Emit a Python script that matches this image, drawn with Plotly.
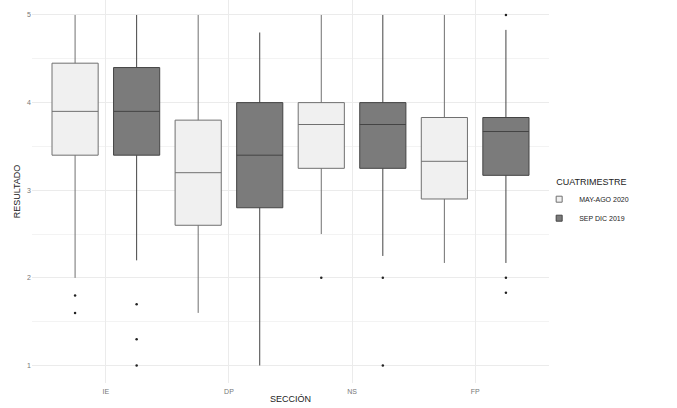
import plotly.graph_objects as go

secciones = ["IE", "DP", "NS", "FP"]

may_lo = [2.0, 1.6, 2.5, 2.17]
may_q1 = [3.4, 2.6, 3.25, 2.9]
may_med = [3.9, 3.2, 3.75, 3.33]
may_q3 = [4.45, 3.8, 4.0, 3.83]
may_hi = [5.0, 5.0, 5.0, 5.0]
may_out_x = ["IE", "IE", "NS"]
may_out_y = [1.8, 1.6, 2.0]

sep_lo = [2.2, 1.0, 2.25, 2.17]
sep_q1 = [3.4, 2.8, 3.25, 3.17]
sep_med = [3.9, 3.4, 3.75, 3.67]
sep_q3 = [4.4, 4.0, 4.0, 3.83]
sep_hi = [5.0, 4.8, 5.0, 4.83]
sep_out_x = ["IE", "IE", "IE", "NS", "NS", "FP", "FP", "FP"]
sep_out_y = [1.7, 1.3, 1.0, 2.0, 1.0, 5.0, 2.0, 1.83]

FONT = "Liberation Sans, Arial, sans-serif"

fig = go.Figure()
fig.add_trace(go.Box(
    name="MAY-AGO 2020", x=secciones, q1=may_q1, median=may_med, q3=may_q3,
    lowerfence=may_lo, upperfence=may_hi, boxpoints=False,
    fillcolor="#F0F0F0", line=dict(color="#707070", width=1), whiskerwidth=0,
    offsetgroup="a", showlegend=False))
fig.add_trace(go.Box(
    name="SEP DIC 2019", x=secciones, q1=sep_q1, median=sep_med, q3=sep_q3,
    lowerfence=sep_lo, upperfence=sep_hi, boxpoints=False,
    fillcolor="#7B7B7B", line=dict(color="#444444", width=1), whiskerwidth=0,
    offsetgroup="b", showlegend=False))
fig.add_trace(go.Scatter(
    x=may_out_x, y=may_out_y, mode="markers", offsetgroup="a",
    marker=dict(color="#222222", size=2.5), showlegend=False, hoverinfo="y"))
fig.add_trace(go.Scatter(
    x=sep_out_x, y=sep_out_y, mode="markers", offsetgroup="b",
    marker=dict(color="#222222", size=2.5), showlegend=False, hoverinfo="y"))
# legend entries (small box icons like the reference)
fig.add_trace(go.Scatter(
    x=[None], y=[None], mode="markers", name="MAY-AGO 2020",
    marker=dict(symbol="square", size=6, color="#F0F0F0", line=dict(color="#707070", width=1))))
fig.add_trace(go.Scatter(
    x=[None], y=[None], mode="markers", name="SEP DIC 2019",
    marker=dict(symbol="square", size=6, color="#7B7B7B", line=dict(color="#444444", width=1))))

fig.update_layout(
    width=677, height=408,
    margin=dict(l=32, r=128, t=0, b=25),
    paper_bgcolor="white", plot_bgcolor="white",
    boxmode="group", boxgap=0, boxgroupgap=0.25,
    scattermode="group", scattergap=0,
    font=dict(family=FONT, color="#333333"),
    legend=dict(
        title=dict(text="CUATRIMESTRE", font=dict(size=9, color="#222222")),
        font=dict(size=7, color="#222222"),
        x=1.01, xanchor="left", y=0.47, yanchor="middle",
        indentation=-15, tracegroupgap=0, bgcolor="rgba(0,0,0,0)"),
    xaxis=dict(
        type="category", range=[-0.6, 3.6], automargin=False,
        showgrid=True, gridcolor="#EBEBEB", gridwidth=1,
        zeroline=False, showline=False, ticks="", ticklabelstandoff=3,
        tickfont=dict(size=7, color="#777777"),
        title=dict(text="SECCIÓN", font=dict(size=9, color="#222222"), standoff=1)),
    yaxis=dict(
        range=[0.8, 5.171], tickvals=[1, 2, 3, 4, 5], automargin=False,
        showgrid=True, gridcolor="#EBEBEB", gridwidth=1,
        minor=dict(dtick=0.5, tick0=0.5, showgrid=True, gridcolor="#F3F3F3", gridwidth=0.6),
        zeroline=False, showline=False, ticks="",
        tickfont=dict(size=7, color="#777777"),
        title=dict(text="RESULTADO", font=dict(size=9, color="#222222"), standoff=4)),
)

fig.write_html("out.html", config={"displayModeBar": False},
               post_script="document.body.style.margin='0';")
